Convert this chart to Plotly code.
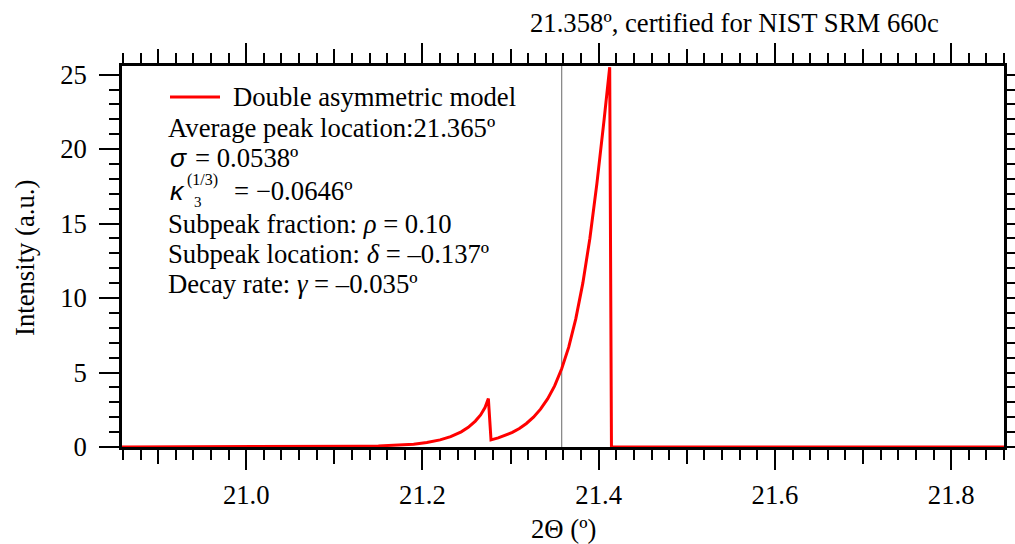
import plotly.graph_objects as go

# Double asymmetric peak model (intensity vs. 2-theta)
two_theta = [20.859, 21.000, 21.050, 21.100, 21.130, 21.150, 21.176, 21.190,
             21.205, 21.220, 21.232, 21.244, 21.252, 21.260, 21.266, 21.271,
             21.2748, 21.2778, 21.286, 21.294, 21.302, 21.310, 21.318, 21.326,
             21.334, 21.342, 21.350, 21.358, 21.366, 21.374, 21.382, 21.390,
             21.398, 21.406, 21.4125, 21.4145, 21.860]
intensity = [0.0, 0.0, 0.01, 0.03, 0.05, 0.07, 0.12, 0.19,
             0.30, 0.48, 0.70, 1.02, 1.32, 1.74, 2.15, 2.65,
             3.25, 0.48, 0.61, 0.77, 0.98, 1.24, 1.58, 2.00,
             2.54, 3.23, 4.10, 5.25, 6.70, 8.60, 11.0, 14.0,
             17.7, 21.9, 25.5, 0.0, 0.0]

certified_peak = 21.358
x_range = [20.859, 21.860]
y_range = [0.0, 25.58]
x_tick_vals = [21.0, 21.2, 21.4, 21.6, 21.8]
y_tick_vals = [0, 5, 10, 15, 20, 25]

legend_label = "Double asymmetric model"
title_text = "21.358º, certified for NIST SRM 660c"
param_lines = [
    "Average peak location:21.365º",
    "Subpeak fraction: <i>ρ</i> = 0.10",
    "Subpeak location: <i>δ</i> = –0.137º",
    "Decay rate: <i>γ</i> = –0.035º",
]

FONT = "'Liberation Serif', 'Times New Roman', serif"
SANS = "'Liberation Sans', Arial, sans-serif"
FS = 26.7
W, H = 1015, 544
ML, MR, MT, MB = 122, 11, 66, 97
PW, PH = W - ML - MR, H - MT - MB


def px(xp):
    return (xp - ML) / PW


def py(yp):
    return (H - MB - yp) / PH


fig = go.Figure()

fig.add_trace(go.Scatter(
    x=two_theta, y=intensity, mode="lines",
    line=dict(color="#ff0000", width=3),
    name=legend_label, showlegend=False,
))

# certified reference position
fig.add_shape(type="line", xref="x", yref="paper",
              x0=certified_peak, x1=certified_peak, y0=0, y1=1,
              line=dict(color="#808080", width=1.2), layer="below")

tick_common = dict(ticks="outside", tickcolor="black", tickwidth=2,
                   showgrid=False, zeroline=False, automargin=False)

fig.update_layout(
    width=W, height=H,
    margin=dict(l=ML, r=MR, t=MT, b=MB, autoexpand=False),
    paper_bgcolor="white", plot_bgcolor="white",
    font=dict(family=FONT, size=FS, color="black"),
    showlegend=False,
    xaxis=dict(range=x_range, tickmode="array", tickvals=x_tick_vals,
               ticktext=[f"{v:.1f}" for v in x_tick_vals], ticklen=20,
               minor=dict(tick0=21.0, dtick=0.02, ticklen=10, tickwidth=2,
                          tickcolor="black", ticks="outside"),
               showline=True, linecolor="black", linewidth=2.5,
               layer="below traces", ticklabelstandoff=2,
               tickfont=dict(family=FONT, size=FS), **tick_common),
    xaxis2=dict(range=x_range, overlaying="x", anchor="y", side="bottom",
                tick0=20.9, dtick=0.1, ticklen=16, showticklabels=False,
                showline=False, **tick_common),
    xaxis3=dict(range=x_range, overlaying="x", anchor="y", side="top",
                tick0=21.0, dtick=0.2, ticklen=20, showticklabels=False,
                minor=dict(tick0=21.0, dtick=0.02, ticklen=10, tickwidth=2,
                           tickcolor="black", ticks="outside"),
                showline=True, linecolor="black", linewidth=2.5,
                **tick_common),
    xaxis4=dict(range=x_range, overlaying="x", anchor="y", side="top",
                tick0=20.9, dtick=0.1, ticklen=16, showticklabels=False,
                showline=False, **tick_common),
    yaxis=dict(range=y_range, tickmode="array", tickvals=y_tick_vals,
               ticklen=20,
               minor=dict(tick0=0, dtick=1, ticklen=10, tickwidth=2,
                          tickcolor="black", ticks="outside"),
               showline=True, linecolor="black", linewidth=2.5,
               layer="below traces", ticklabelstandoff=7,
               tickfont=dict(family=FONT, size=FS), **tick_common),
    yaxis2=dict(range=y_range, overlaying="y", anchor="x", side="right",
                tick0=0, dtick=1, ticklen=10, showticklabels=False,
                showline=True, linecolor="black", linewidth=2.5,
                **tick_common),
)

# keep the overlay axes alive with invisible traces
for xa, ya in [("x2", "y"), ("x3", "y"), ("x4", "y"), ("x", "y2")]:
    fig.add_trace(go.Scatter(x=[x_range[0]], y=[y_range[0]], xaxis=xa, yaxis=ya,
                             mode="markers", marker=dict(opacity=0),
                             hoverinfo="skip", showlegend=False))

ann = []


def text(xp, yp, s, size=FS, xanchor="left", family=FONT, **kw):
    ann.append(dict(x=px(xp), y=py(yp), xref="paper", yref="paper", text=s,
                    showarrow=False, xanchor=xanchor, yanchor="middle",
                    font=dict(family=family, size=size, color="black"), **kw))


# title and axis titles
text(734.5, 23, title_text, xanchor="center")
text(563, 529, "2Θ (º)", xanchor="center")
ann.append(dict(x=px(25), y=py(258), xref="paper", yref="paper",
                text="Intensity (a.u.)", showarrow=False, textangle=-90,
                xanchor="center", yanchor="middle",
                font=dict(family=FONT, size=FS, color="black")))

# legend entry
fig.add_shape(type="line", xref="paper", yref="paper",
              x0=px(170), x1=px(220), y0=py(97), y1=py(97),
              line=dict(color="#ff0000", width=3))
text(231, 97, legend_label)

# fitted parameters
text(166, 128, param_lines[0])
text(168, 158, "<i>σ</i>", family=SANS)
text(193, 158, "= 0.0538º")
text(168, 191, "<i>κ</i>", family=SANS)
text(185, 180, "(1/3)", size=16)
text(192, 202, "3", size=15)
text(232, 191, "= −0.0646º")
text(166, 224, param_lines[1])
text(166, 254, param_lines[2])
text(166, 284, param_lines[3])

fig.update_layout(annotations=ann)

fig.write_html("out.html")
